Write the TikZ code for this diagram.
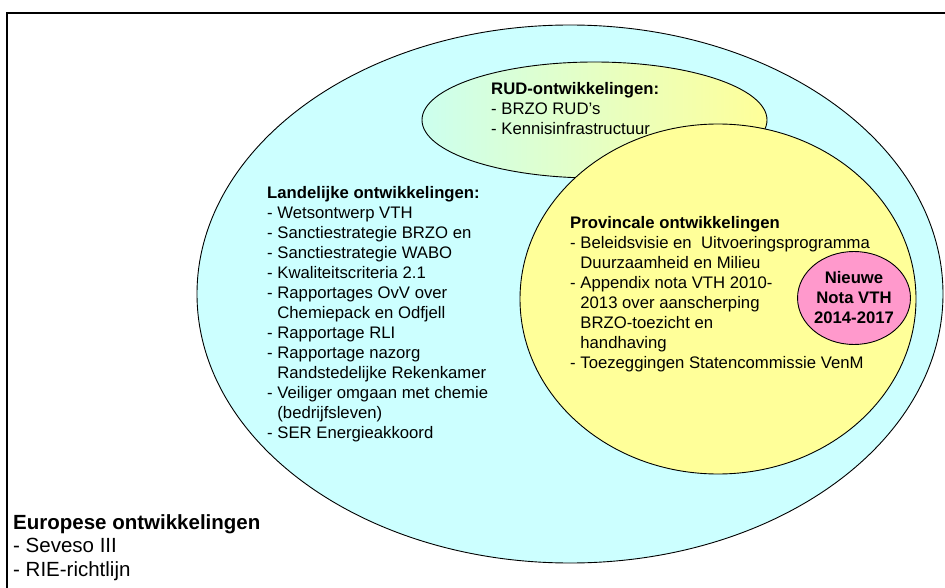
\documentclass[tikz,border=0pt]{standalone}
\usepackage{fontspec}
\setmainfont{Liberation Sans}
\usepackage{tikz}
\usepackage{xcolor}
\usetikzlibrary{shapes.geometric}

\definecolor{lichtblauw}{HTML}{CCFFFF}
\definecolor{lichtgeel}{HTML}{FFFF99}
\definecolor{lichtgroen}{HTML}{CCFFEE}
\definecolor{roze}{HTML}{FF99CC}
\newcommand{\insp}{\hspace*{0.611em}}

\begin{document}
\begin{tikzpicture}[x=1pt,y=-1pt,
    blob/.style={shape=ellipse, draw, line width=0.9pt, inner sep=0pt},
    txt/.style={anchor=north west, inner sep=0pt, align=left, font=\fontsize{16.7}{20}\selectfont}]
    \useasboundingbox (0,0) rectangle (945,588);
    \draw[line width=1.2pt] (7,600) -- (7,13) -- (960,13);

    % ellipsen
    \node[blob, fill=lichtblauw, minimum width=746pt, minimum height=538pt] (europa) at (570,294) {};
    \node[blob, left color=lichtgroen, right color=lichtgeel, minimum width=345pt, minimum height=116pt] (rud) at (594.5,120) {};
    \node[blob, fill=lichtgeel, minimum width=396pt, minimum height=350pt] (provincie) at (718,299) {};
    \node[blob, fill=roze, minimum width=110pt, minimum height=93pt, align=center,
          font=\fontsize{16.7}{20}\selectfont\bfseries] (nota) at (854,298) {Nieuwe\\Nota VTH\\2014-2017};

    % teksten
    \node[txt] (rudtekst) at (491,82) {\textbf{RUD-ontwikkelingen:}\\- BRZO RUD’s\\- Kennisinfrastructuur};
    \node[txt] (landtekst) at (267,186) {\textbf{Landelijke ontwikkelingen:}\\
        - Wetsontwerp VTH\\- Sanctiestrategie BRZO en\\- Sanctiestrategie WABO\\
        - Kwaliteitscriteria 2.1\\- Rapportages OvV over\\\insp Chemiepack en Odfjell\\
        - Rapportage RLI\\- Rapportage nazorg\\\insp Randstedelijke Rekenkamer\\
        - Veiliger omgaan met chemie\\\insp (bedrijfsleven)\\- SER Energieakkoord};
    \node[txt] (provtekst) at (570,216) {\textbf{Provincale ontwikkelingen}\\
        - Beleidsvisie en\ \ Uitvoeringsprogramma\\\insp Duurzaamheid en Milieu\\
        - Appendix nota VTH 2010-\\\insp 2013 over aanscherping\\\insp BRZO-toezicht en\\\insp handhaving\\
        - Toezeggingen Statencommissie VenM};
    \node[txt, font=\fontsize{20.5}{23.5}\selectfont] (eutekst) at (13,514) {\textbf{Europese ontwikkelingen}\\- Seveso III\\- RIE-richtlijn};
\end{tikzpicture}
\end{document}
